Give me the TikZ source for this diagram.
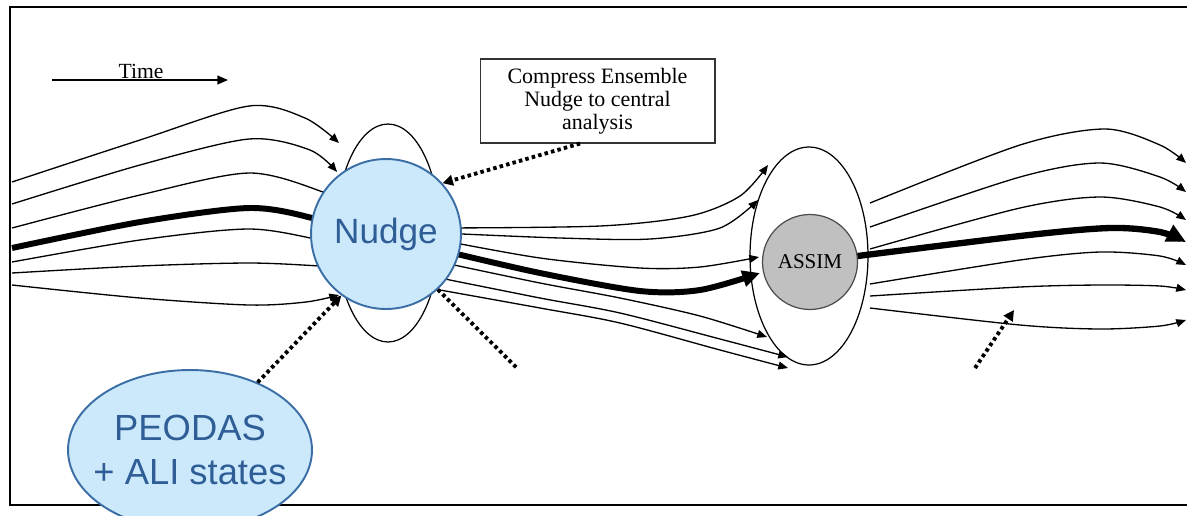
\documentclass[tikz,border=0pt]{standalone}
\usepackage{fontspec}
\setmainfont{Liberation Serif}
\newfontfamily\arialfont{Liberation Sans}
\usetikzlibrary{arrows.meta,shapes.geometric}

\definecolor{blobfill}{RGB}{204,233,252}
\definecolor{blobedge}{RGB}{58,110,165}
\definecolor{blobtext}{RGB}{47,94,150}
\definecolor{assimgray}{RGB}{192,192,192}

\begin{document}
\begin{tikzpicture}[x=0.02cm,y=-0.02cm,
  orbit/.style={line width=0.75pt},
  mainorbit/.style={line width=3.4pt},
  tip/.style={-{Triangle[length=5.5pt,width=4.5pt]}},
  bigtip/.style={-{Triangle[length=10pt,width=9pt]}},
  dots/.style={line width=2.2pt,dash pattern=on 2pt off 1.8pt,-{Triangle[length=6pt,width=6pt]}},
  ring/.style={ellipse,draw,line width=0.7pt,inner sep=0pt},
  blob/.style={draw=blobedge,fill=blobfill,line width=1.1pt,inner sep=0pt,text=blobtext,align=center}]
  \useasboundingbox (0,0) rectangle (1187,515);
  \clip (0,0) rectangle (1187,515);
  \draw[line width=1.4pt] (1200,7) -- (10,7) -- (10,505) -- (1200,505);

  \coordinate (t0) at (52,80);
  \coordinate (t1) at (228,80);
  \coordinate (c1) at (517,368);
  \coordinate (c2) at (975,368);
  \coordinate (c3) at (1014,310);

  % time axis
  \draw[orbit,-{Triangle[length=6pt,width=5pt]}] (t0) -- (t1);
  \node[font=\fontsize{12.3}{14}\selectfont] (timelbl) at (141,71) {Time};

  % members running into the nudge
  \draw[orbit,tip] plot[smooth] coordinates {(12,182) (140,140) (249,106) (305,118) (339,143)};
  \draw[orbit,tip] plot[smooth] coordinates {(12,204) (140,165) (249,139) (310,150) (337,172)};
  \draw[orbit] plot[smooth] coordinates {(12,228) (140,195) (249,173) (323,192) (345,205)};
  \draw[mainorbit] plot[smooth] coordinates {(12,248) (140,222) (249,208) (312,218) (345,232)};
  \draw[orbit] plot[smooth] coordinates {(12,262) (140,240) (249,229) (320,240) (345,246)};
  \draw[orbit] plot[smooth] coordinates {(12,273) (140,266) (249,263) (320,266) (345,268)};
  \draw[orbit,tip] plot[smooth] coordinates {(12,285) (140,298) (249,305) (306,302) (339,295)};

  % nudge to assim
  \draw[orbit,tip] plot[smooth] coordinates {(440,228) (600,226) (690,216) (740,196) (768,165)};
  \draw[orbit,tip] plot[smooth] coordinates {(440,233) (560,238) (650,239) (720,228) (758,200)};
  \draw[orbit,tip] plot[smooth] coordinates {(440,240) (540,258) (640,268) (700,267) (759,257)};
  \draw[mainorbit,bigtip] plot[smooth] coordinates {(440,250) (540,273) (640,291) (700,290) (760,273)};
  \draw[orbit,tip] plot[smooth] coordinates {(440,262) (540,283) (620,298) (700,316) (767,337)};
  \draw[orbit,tip] plot[smooth] coordinates {(440,278) (540,298) (620,313) (720,339) (788,357)};
  \draw[orbit,tip] plot[smooth] coordinates {(440,290) (540,308) (620,323) (720,350) (788,368)};

  % after the assimilation
  \draw[orbit,tip] plot[smooth] coordinates {(870,203) (1020,145) (1105,129) (1160,145) (1186,163)};
  \draw[orbit,tip] plot[smooth] coordinates {(870,227) (1020,177) (1100,163) (1160,177) (1186,192)};
  \draw[orbit,tip] plot[smooth] coordinates {(870,249) (1020,208) (1100,197) (1160,207) (1186,220)};
  \draw[line width=3.6pt,-{Triangle[length=11pt,width=10pt]}] plot[smooth] coordinates {(810,262) (1020,236) (1110,228) (1160,232) (1186,242)};
  \draw[orbit,tip] plot[smooth] coordinates {(870,284) (1020,260) (1100,252) (1160,256) (1186,265)};
  \draw[orbit,tip] plot[smooth] coordinates {(870,296) (1020,287) (1100,285) (1160,286) (1186,290)};
  \draw[orbit,tip] plot[smooth] coordinates {(870,308) (1020,325) (1100,329) (1160,326) (1186,320)};

  \node[ring,minimum width=2.08cm,minimum height=4.36cm] (nudgering) at (388,233) {};
  \node[ring,minimum width=2.36cm,minimum height=4.36cm] (assimring) at (809,256) {};

  \node[blob,circle,minimum size=3cm,font=\arialfont\fontsize{20}{24}\selectfont] (nudge) at (386,234) {Nudge};
  \node[circle,draw=black!70,fill=assimgray,line width=0.7pt,minimum size=1.9cm,inner sep=0pt,
    font=\fontsize{12}{14}\selectfont] (assim) at (810,262) {ASSIM};

  \node[draw=black!80,line width=0.6pt,minimum width=4.7cm,minimum height=1.68cm,align=center,
    font=\fontsize{12.5}{13}\selectfont] (box) at (597.5,101) {Compress Ensemble\\Nudge to central\\analysis};

  \node[blob,ellipse,inner xsep=-0.3cm,minimum width=4.88cm,minimum height=3.2cm,
    font=\arialfont\fontsize{20.7}{25.5}\selectfont] (peodas) at (190,450) {PEODAS\\+ ALI states};

  % dotted feeds
  \draw[dots] ([xshift=-0.35cm]box.south) -- (nudge.42);
  \draw[dots] (peodas.45) -- (nudge.234);
  \draw[dots,-] (nudge.-47) -- (c1);
  \draw[dots] (c2) -- (c3);
\end{tikzpicture}
\end{document}
